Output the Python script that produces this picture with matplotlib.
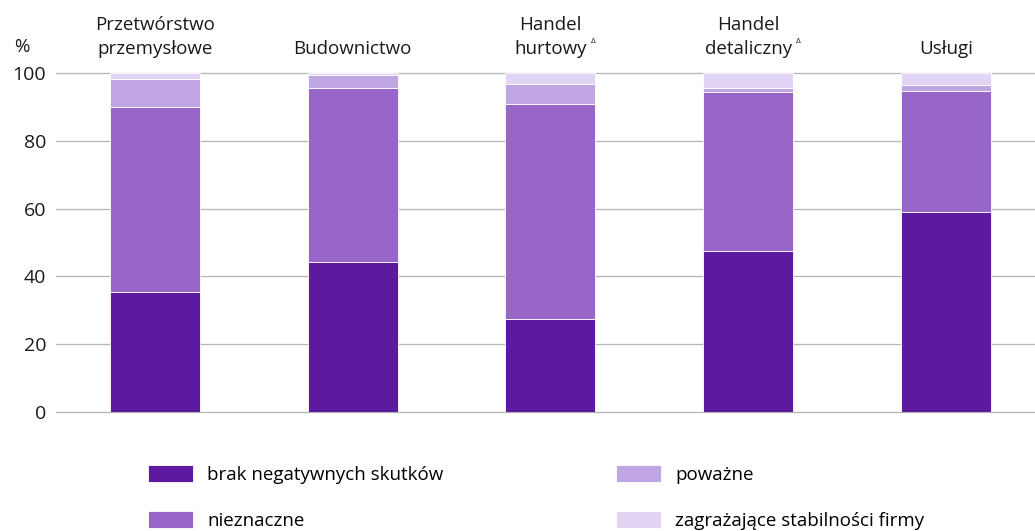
import numpy as np
import matplotlib
matplotlib.use("Agg")
import matplotlib.pyplot as plt

plt.rcParams['font.family'] = ['Open Sans', 'DejaVu Sans']

categories = ["Przetwórstwo\nprzemysłowe", "Budownictwo", "Handel\nhurtowy",
              "Handel\ndetaliczny", "Usługi"]
marked = [False, False, True, True, False]  # etykiety z trójkątem

brak = [35.5, 44.3, 27.3, 47.6, 59.1]
nieznaczne = [54.6, 51.4, 63.7, 46.7, 35.7]
powazne = [8.2, 3.7, 5.9, 1.4, 1.8]
zagrazajace = [1.7, 0.6, 3.1, 4.3, 3.4]

series = [
    ("brak negatywnych skutków", brak, "#5c1aa0"),
    ("nieznaczne", nieznaczne, "#9866c8"),
    ("poważne", powazne, "#c0a6e2"),
    ("zagrażające stabilności firmy", zagrazajace, "#e2d4f5"),
]

fs = 13.5
fig = plt.figure(figsize=(10.35, 5.31), dpi=100)
ax = fig.add_axes([0.054, 0.224, 0.946, 0.6385])

x = np.arange(len(categories))
bottom = np.zeros(len(categories))
for name, vals, col in series:
    ax.bar(x, vals, bottom=bottom, width=0.455, color=col, label=name,
           edgecolor="white", linewidth=0.6)
    bottom += np.array(vals)

ax.set_ylim(0, 100)
ax.set_xlim(-0.5, 4.45)
ax.set_yticks([0, 20, 40, 60, 80, 100])
ax.tick_params(axis="y", length=0, labelsize=fs + 0.5, pad=7, colors="#1a1a1a")
ax.set_xticks([])
for s in ax.spines.values():
    s.set_visible(False)
ax.set_axisbelow(True)
ax.yaxis.grid(True, color="#b4b4b4", linewidth=0.9)
for gl in ax.get_ygridlines():
    gl.set_clip_on(False)

# etykiety kategorii nad wykresem
for i, cat in enumerate(categories):
    t = ax.text(x[i], 1.045, cat, transform=ax.get_xaxis_transform(),
                ha="center", va="bottom", fontsize=fs, color="#1a1a1a",
                linespacing=1.4)
    if marked[i]:
        ax.annotate("Δ", xy=(1, 0.3), xycoords=t, xytext=(3, 0),
                    textcoords="offset points", fontsize=6, ha="left",
                    va="bottom", color="#1a1a1a")

fig.text(0.021, 0.912, "%", ha="center", va="center", fontsize=fs,
         color="#1a1a1a")

fig.legend(loc="upper left", bbox_to_anchor=(0.143, 0.125), ncol=2,
           frameon=False, fontsize=fs, handlelength=2.4, handleheight=1.05,
           handletextpad=0.75, columnspacing=9.2, labelspacing=1.45,
           borderpad=0, borderaxespad=0)

fig.savefig("out.png", dpi=100)
